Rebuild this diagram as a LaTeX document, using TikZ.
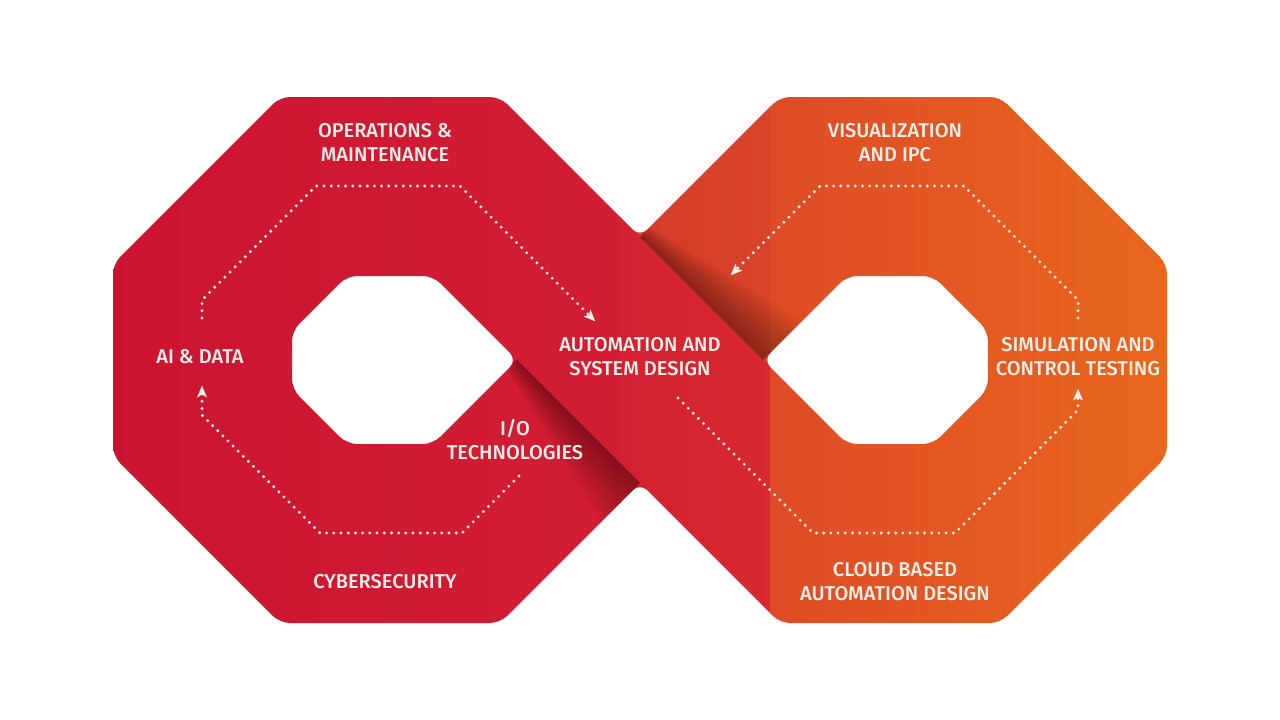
\documentclass[tikz,border=0pt]{standalone}
\usepackage{fontspec}
\newfontfamily\labelfont{Fira Sans Medium}
\usetikzlibrary{arrows.meta}
\definecolor{redA}{HTML}{CC1432}
\definecolor{redB}{HTML}{D21E33}
\definecolor{redC}{HTML}{D32131}
\definecolor{redD}{HTML}{D7292F}
\definecolor{ornA}{HTML}{D43A2B}
\definecolor{ornB}{HTML}{DA4428}
\definecolor{ornC}{HTML}{DF4B26}
\definecolor{ornD}{HTML}{E9681D}
\definecolor{txt}{HTML}{F7EFEA}
\tikzset{
  lbl/.style={text=txt, font=\labelfont\fontsize{20}{24}\selectfont, align=center, inner sep=0pt},
  dots/.style={draw=txt, line width=3.2pt, line cap=round, dash pattern=on 0pt off 7.2pt},
  tipend/.style={-{Stealth[length=12pt,width=10pt,inset=3.5pt,line width=0.4pt,round]}},
  shadowstrip/.style={fill=black, opacity=0.026},
}
\begin{document}
\begin{tikzpicture}[x=1pt,y=-1pt]
\useasboundingbox (0,0) rectangle (1280,720);
\begin{scope}[even odd rule]
\clip[rounded corners=10pt]
  (280,97) -- (500,97) -- (640,237) -- (780,97) -- (1000,97) -- (1167,264) -- (1167,456)
  -- (1000,623) -- (780,623) -- (640,483) -- (500,623) -- (280,623) -- (113,456) -- (113,264) -- cycle
  (347,276) -- (433,276) -- (517,360) -- (433,444) -- (347,444) -- (292,389) -- (292,331) -- cycle
  (933,276) -- (847,276) -- (763,360) -- (847,444) -- (933,444) -- (988,389) -- (988,331) -- cycle;
% vertical facets
\shade[left color=redA, right color=redB] (100,80) rectangle (621,640);
\shade[left color=redC, right color=redD] (620,80) rectangle (771,640);
\shade[left color=ornA, right color=ornB] (620,80) -- (620,217) -- (771,368) -- (771,80) -- cycle;
\shade[left color=ornC, right color=ornD] (770,80) rectangle (1180,640);
% shadows of the front band on the back band (growing towards the lower end)
\foreach \k in {4,8,...,56} {
  \path[shadowstrip] (640,237) -- (763,360) -- ({763+0.7071*\k},{360-0.7071*\k}) -- ({640+0.18*\k},{237-0.18*\k}) -- cycle;
  \path[shadowstrip] (517,360) -- (640,483) -- ({640-0.7071*\k},{483+0.7071*\k}) -- ({517-0.18*\k},{360+0.18*\k}) -- cycle;
}
\end{scope}
% labels
\node[lbl] (ops) at (385,143) {OPERATIONS \&\\MAINTENANCE};
\node[lbl] (vis) at (895,143) {VISUALIZATION\\AND IPC};
\node[lbl] (auto) at (640,357) {AUTOMATION AND\\SYSTEM DESIGN};
\node[lbl] (sim) at (1078,357) {SIMULATION AND\\CONTROL TESTING};
\node[lbl] (cloud) at (895,582) {CLOUD BASED\\AUTOMATION DESIGN};
\node[lbl] (io) at (515,440) {I/O\\TECHNOLOGIES};
\node[lbl] (cyber) at (385,582) {CYBERSECURITY};
\node[lbl] (ai) at (200,357) {AI \& DATA};
% dotted cycle arrows
\coordinate (lt0) at (202,318); \coordinate (lt1) at (595,321);
\coordinate (lb0) at (519,476); \coordinate (lb1) at (202,386);
\coordinate (rt0) at (1078,318); \coordinate (rt1) at (731,275);
\coordinate (rb0) at (678,398); \coordinate (rb1) at (1078,389);
\draw[dots, tipend] (lt0) -- (202,300) -- (316,186) -- (460,186) -- (lt1);
\draw[dots, tipend] (lb0) -- (462,533) -- (320,533) -- (202,415) -- (lb1);
\draw[dots, tipend] (rt0) -- (1078,300) -- (964,186) -- (820,186) -- (rt1);
\draw[dots, tipend] (rb0) -- (813,533) -- (955,533) -- (1078,410) -- (rb1);
\end{tikzpicture}
\end{document}
